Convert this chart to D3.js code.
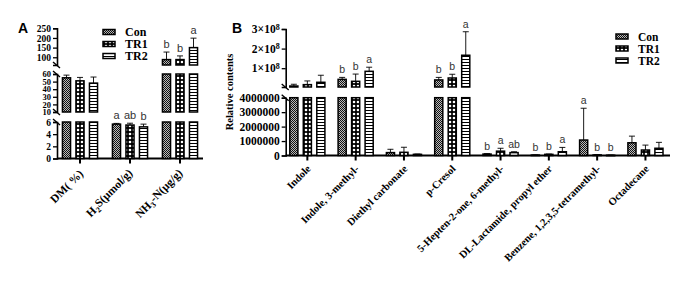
<!DOCTYPE html>
<html><head><meta charset="utf-8">
<script src="https://cdn.jsdelivr.net/npm/d3@7"></script>
<style>body{margin:0;background:#fff}svg{display:block}</style>
</head><body>
<svg id="c" width="685" height="304"></svg>
<script>
// ---------- DATA ----------
const series = ["Con", "TR1", "TR2"];

// Panel A
const catA = ["DM", "H2S", "NH3"];
const conA = [55, 5.65, 88];
const tr1A = [51, 5.5, 88];
const tr2A = [48, 5.2, 150];
const errConA = [3.5, 0.12, 39];
const errTr1A = [4.5, 0.3, 19];
const errTr2A = [8, 0.45, 49];
const letConA = ["", "a", "b"];
const letTr1A = ["", "ab", "b"];
const letTr2A = ["", "b", "a"];
const ticksA1 = [0, 2, 4, 6];
const ticksA2 = [10, 20, 30, 40, 50, 60];
const ticksA3 = [100, 150, 200, 250];

// Panel B
const catB = ["Indole", "Indole, 3-methyl-", "Diethyl carbonate", "p-Cresol",
  "5-Hepten-2-one, 6-methyl-", "DL-Lactamide, propyl ether",
  "Benzene, 1,2,3,5-tetramethyl-", "Octadecane"];
const conB = [9e6, 4.3e7, 2.0e5, 4.0e7, 1.0e5, 3e4, 1.07e6, 8.8e5];
const tr1B = [1.6e7, 3.3e7, 2.2e5, 5.0e7, 3.0e5, 8e4, 4e4, 3.8e5];
const tr2B = [2.8e7, 8.4e7, 8e4, 1.66e8, 2.0e5, 2.6e5, 2e4, 5e5];
const errConB = [9e6, 1.0e7, 2.3e5, 1.3e7, 3e4, 1e4, 2.2e6, 4.6e5];
const errTr1B = [1.9e7, 3.7e7, 3.5e5, 1.9e7, 2e5, 2e4, 2e4, 3.4e5];
const errTr2B = [3.6e7, 2.1e7, 2e4, 1.2e8, 6e4, 3e5, 1e4, 4.1e5];
const letConB = ["", "b", "", "b", "b", "b", "a", ""];
const letTr1B = ["", "b", "", "b", "a", "b", "b", ""];
const letTr2B = ["", "a", "", "a", "ab", "a", "b", ""];
const ticksB1 = [0, 1000000, 2000000, 3000000, 4000000];
const ticksB2 = [1e8, 2e8, 3e8];

// ---------- DRAW ----------
const svg = d3.select("#c");
svg.append("rect").attr("width", 685).attr("height", 304).attr("fill", "#fff");
const SERIF = "'Liberation Serif','Times New Roman',serif";
const SANS = "'Liberation Sans',Arial,sans-serif";

const defs = svg.append("defs");
// Con: fine grey stipple
const pCon = defs.append("pattern").attr("id", "pCon").attr("patternUnits", "userSpaceOnUse")
  .attr("width", 2).attr("height", 2);
pCon.append("rect").attr("width", 2).attr("height", 2).attr("fill", "#bbb");
pCon.append("rect").attr("width", 1).attr("height", 1).attr("fill", "#111");
pCon.append("rect").attr("x", 1).attr("y", 1).attr("width", 1).attr("height", 1).attr("fill", "#111");
// TR1: black with white dots
const pTr1 = defs.append("pattern").attr("id", "pTR1").attr("patternUnits", "userSpaceOnUse")
  .attr("width", 4).attr("height", 4);
pTr1.append("rect").attr("width", 4).attr("height", 4).attr("fill", "#000");
pTr1.append("circle").attr("cx", 2).attr("cy", 2).attr("r", 1.3).attr("fill", "#fff");
// TR2: horizontal stripes
const pTr2 = defs.append("pattern").attr("id", "pTR2").attr("patternUnits", "userSpaceOnUse")
  .attr("width", 3).attr("height", 3);
pTr2.append("rect").attr("width", 3).attr("height", 3).attr("fill", "#fff");
pTr2.append("rect").attr("y", 2).attr("width", 3).attr("height", 1).attr("fill", "#000");
const fills = {Con: "url(#pCon)", TR1: "url(#pTR1)", TR2: "url(#pTR2)"};

function drawPanel(cfg) {
  const g = svg.append("g");
  const x0 = d3.scaleBand().domain(cfg.cats).range(cfg.xRange);
  const x1 = d3.scaleBand().domain(series).range([-20.25, 20.25]).paddingInner(0.4).paddingOuter(0.2);
  const segs = cfg.segs;
  const yBase = segs[0].scale.range()[0];

  // y axes per segment
  segs.forEach(s => {
    const ax = g.append("g").attr("transform", `translate(${cfg.axisX},0)`)
      .call(d3.axisLeft(s.scale).tickValues(s.ticks).tickSizeOuter(0).tickSize(4).tickPadding(2)
        .tickFormat(s.fmt || (d => d)));
    ax.select(".domain").attr("stroke", "#000").attr("stroke-width", 1.6);
    ax.selectAll(".tick line").attr("stroke", "#000").attr("stroke-width", 1.3);
    ax.selectAll(".tick text").attr("font-family", SERIF).attr("font-weight", "bold")
      .attr("font-size", s.font || cfg.tickFont).attr("fill", "#000");
    if (s.sci) {
      ax.selectAll(".tick text").each(function(d) {
        const t = d3.select(this).text("");
        t.append("tspan").text(Math.round(d / 1e8) + "\u00d710");
        t.append("tspan").attr("dy", "-0.45em").attr("font-size", "0.7em").text("8");
      });
    }
  });
  // break marks
  for (let i = 0; i < segs.length - 1; i++) {
    const yLowTop = segs[i].scale.range()[1];
    const yUpBot = segs[i + 1].scale.range()[0];
    [yLowTop, yUpBot].forEach(yy => {
      g.append("line").attr("x1", cfg.axisX - 4).attr("y1", yy - 3)
        .attr("x2", cfg.axisX + 3).attr("y2", yy + 3)
        .attr("stroke", "#000").attr("stroke-width", 1.4);
    });
  }
  // x axis
  g.append("line").attr("x1", cfg.axisX).attr("x2", cfg.axisEnd).attr("y1", yBase).attr("y2", yBase)
    .attr("stroke", "#000").attr("stroke-width", 1.8);
  cfg.cats.forEach(c => {
    const cx = x0(c) + x0.bandwidth() / 2;
    g.append("line").attr("x1", cx).attr("x2", cx).attr("y1", yBase).attr("y2", yBase + 5)
      .attr("stroke", "#000").attr("stroke-width", 2);
  });

  // bars
  const vals = {Con: cfg.con, TR1: cfg.tr1, TR2: cfg.tr2};
  const errs = {Con: cfg.eCon, TR1: cfg.eTr1, TR2: cfg.eTr2};
  const lets = {Con: cfg.lCon, TR1: cfg.lTr1, TR2: cfg.lTr2};
  cfg.cats.forEach((c, i) => {
    const cx = x0(c) + x0.bandwidth() / 2;
    series.forEach(s => {
      const v = vals[s][i], e = errs[s][i];
      const bx = cx + x1(s);
      const bw = x1.bandwidth();
      segs.forEach(sg => {
        const [lo, hi] = sg.scale.domain();
        if (v > lo) {
          const yt = sg.scale(Math.min(v, hi)), yb = sg.scale(lo);
          g.append("rect").attr("x", bx).attr("y", yt).attr("width", bw).attr("height", Math.max(yb - yt, 0.5))
            .attr("fill", fills[s]).attr("stroke", "#000").attr("stroke-width", 1.5);
        }
      });
      // error bar
      let sg = segs.find(q => v > q.scale.domain()[0] && v <= q.scale.domain()[1]) || segs[0];
      const yv = sg.scale(v), ye = sg.scale(Math.min(v + e, sg.scale.domain()[1]));
      const ex = bx + bw / 2;
      g.append("line").attr("x1", ex).attr("x2", ex).attr("y1", yv).attr("y2", ye)
        .attr("stroke", "#000").attr("stroke-width", 0.9);
      g.append("line").attr("x1", ex - 3).attr("x2", ex + 3).attr("y1", ye).attr("y2", ye)
        .attr("stroke", "#000").attr("stroke-width", 0.9);
      if (lets[s][i]) {
        g.append("text").attr("x", ex).attr("y", ye - 4).attr("text-anchor", "middle")
          .attr("font-family", SANS).attr("font-size", cfg.letFont).attr("fill", "#333").text(lets[s][i]);
      }
    });
    // category label
    const t = g.append("text").attr("text-anchor", "end")
      .attr("transform", `translate(${cx + cfg.lblDx},${yBase + cfg.lblDy}) rotate(-45)`)
      .attr("font-family", SERIF).attr("font-weight", "bold").attr("font-size", cfg.lblFont).attr("fill", "#000");
    cfg.labelFn(t, c);
  });

  // legend
  series.forEach((s, k) => {
    const ly = cfg.legY + k * cfg.legStep;
    g.append("rect").attr("x", cfg.legX).attr("y", ly - 2.5).attr("width", 12).attr("height", 5)
      .attr("fill", fills[s]).attr("stroke", "#000").attr("stroke-width", 1.5);
    g.append("text").attr("x", cfg.legX + 22).attr("y", ly + 4)
      .attr("font-family", SERIF).attr("font-weight", "bold").attr("font-size", cfg.legFont).text(s);
  });
  // panel letter
  g.append("text").attr("x", cfg.pX).attr("y", 33).attr("font-family", SANS).attr("font-weight", "bold")
    .attr("font-size", 14).text(cfg.pName);
  return g;
}

// Panel A
drawPanel({
  cats: catA, xRange: [55, 205], axisX: 57, axisEnd: 203,
  segs: [
    {scale: d3.scaleLinear().domain([0, 6]).range([158.5, 122]), ticks: ticksA1},
    {scale: d3.scaleLinear().domain([10, 60]).range([112, 74]), ticks: ticksA2, font: 8.5},
    {scale: d3.scaleLinear().domain([60, 250]).range([65, 28.3]), ticks: ticksA3}
  ],
  con: conA, tr1: tr1A, tr2: tr2A, eCon: errConA, eTr1: errTr1A, eTr2: errTr2A,
  lCon: letConA, lTr1: letTr1A, lTr2: letTr2A,
  tickFont: 9.5, letFont: 11, lblFont: 11.5, lblDx: 4, lblDy: 16,
  legX: 103, legY: 32, legStep: 12, legFont: 12, pX: 18, pName: "A",
  labelFn: (t, c) => {
    if (c === "DM") { t.append("tspan").text("DM( %)"); }
    else if (c === "H2S") {
      t.append("tspan").text("H");
      t.append("tspan").attr("font-size", "0.7em").attr("dy", "0.3em").text("2");
      t.append("tspan").attr("dy", "-0.3em").text("S(\u03bcmol/g)");
    } else {
      t.append("tspan").text("NH");
      t.append("tspan").attr("font-size", "0.7em").attr("dy", "0.3em").text("3");
      t.append("tspan").attr("dy", "-0.3em").text("-N(\u03bcg/g)");
    }
  }
});

// Panel B
drawPanel({
  cats: catB, xRange: [283.2, 669.6], axisX: 285.7, axisEnd: 670,
  segs: [
    {scale: d3.scaleLinear().domain([0, 4e6]).range([155.5, 97.7]), ticks: ticksB1, fmt: d3.format("d")},
    {scale: d3.scaleLinear().domain([4e6, 3e8]).range([87, 29]), ticks: ticksB2, sci: true}
  ],
  con: conB, tr1: tr1B, tr2: tr2B, eCon: errConB, eTr1: errTr1B, eTr2: errTr2B,
  lCon: letConB, lTr1: letTr1B, lTr2: letTr2B,
  tickFont: 11.5, letFont: 10.5, lblFont: 10.5, lblDx: 4, lblDy: 14,
  legX: 616, legY: 36.5, legStep: 12, legFont: 11.5, pX: 232, pName: "B",
  labelFn: (t, c) => t.text(c)
});
svg.append("text").attr("transform", "translate(233,92) rotate(-90)").attr("text-anchor", "middle")
  .attr("font-family", SERIF).attr("font-weight", "bold").attr("font-size", 10.5).text("Relative contents");
</script>
</body></html>
